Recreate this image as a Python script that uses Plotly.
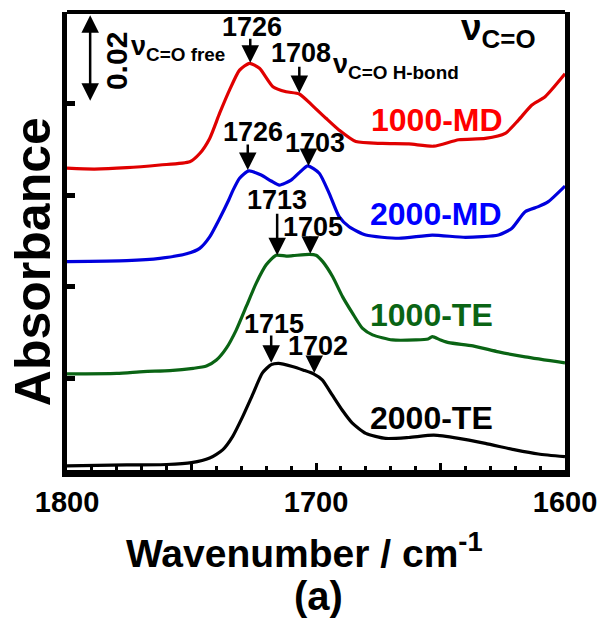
import plotly.graph_objects as go

# ---------------- data ----------------
wn_2000TE = [1800, 1776, 1760, 1750, 1742.7, 1737.5, 1733.5, 1729.5, 1725.5, 1721.5, 1718, 1715, 1709.5, 1705, 1701, 1697.5,
             1693.5, 1689.5, 1685.5, 1680, 1672, 1662.7, 1652.7, 1642.7, 1632, 1620, 1610.7, 1600]
abs_2000TE = [0.0009, 0.0011, 0.0012, 0.0016, 0.0026, 0.0044, 0.0073, 0.0116, 0.0164, 0.0212, 0.0230, 0.0233, 0.0226, 0.0218,
              0.0210, 0.0197, 0.0164, 0.0131, 0.0103, 0.0080, 0.0069, 0.0071, 0.0076, 0.0069, 0.0058, 0.0044, 0.0035, 0.0029]

wn_1000TE = [1800, 1780, 1769.3, 1758.7, 1749.3, 1744, 1740, 1736, 1732, 1728, 1724, 1720, 1716, 1712, 1709.3, 1702.7, 1700,
             1697.3, 1693.3, 1689.3, 1685.3, 1681.3, 1677.3, 1669.3, 1660, 1655, 1653.3, 1650, 1646.7, 1637, 1626.7, 1616, 1600]
abs_1000TE = [0.0210, 0.0211, 0.0215, 0.0217, 0.0222, 0.0227, 0.0240, 0.0266, 0.0306, 0.0357, 0.0408, 0.0448, 0.0469, 0.0467,
              0.0468, 0.0471, 0.0469, 0.0455, 0.0422, 0.0378, 0.0342, 0.0309, 0.0295, 0.0284, 0.0284, 0.0286, 0.0291, 0.0284,
              0.0278, 0.0271, 0.0258, 0.0247, 0.0234]

wn_2000MD = [1800, 1776, 1762.7, 1752, 1746.7, 1742.7, 1739, 1735, 1733.3, 1730.7, 1727, 1722, 1718, 1714.7, 1710, 1706,
             1703.3, 1698.7, 1694.7, 1690.7, 1686.7, 1680, 1666.7, 1653.3, 1640, 1626.7, 1621.3, 1616, 1610.7, 1606.7, 1600]
abs_2000MD = [0.0455, 0.0457, 0.0462, 0.0472, 0.0484, 0.0509, 0.0546, 0.0590, 0.0611, 0.0637, 0.0653, 0.0644, 0.0631, 0.0622,
              0.0633, 0.0653, 0.0664, 0.0648, 0.0604, 0.0553, 0.0531, 0.0513, 0.0506, 0.0513, 0.0508, 0.0513, 0.0528, 0.0564,
              0.0575, 0.0586, 0.0620]

wn_1000MD = [1800, 1789, 1776, 1762.7, 1750.7, 1746.7, 1742.7, 1738.7, 1734.7, 1730.7, 1726.7, 1722.7, 1717.3, 1712, 1706.7,
             1701.3, 1696, 1690.7, 1684, 1673.3, 1662.7, 1652.7, 1642.7, 1632, 1624, 1618.7, 1613.3, 1608, 1600]
abs_1000MD = [0.0659, 0.0657, 0.0660, 0.0666, 0.0673, 0.0691, 0.0724, 0.0779, 0.0830, 0.0873, 0.0888, 0.0877, 0.0837, 0.0826,
              0.0821, 0.0795, 0.0768, 0.0742, 0.0717, 0.0713, 0.0712, 0.0707, 0.0721, 0.0724, 0.0735, 0.0764, 0.0797, 0.0815,
              0.0865]

series_names = ["1000-MD", "2000-MD", "1000-TE", "2000-TE"]
series_colors = ["#e00000", "#0000dd", "#0a6414", "#000000"]
label_colors = ["#ff0000", "#0000ff", "#0a6414", "#000000"]

peak_labels = ["1726", "1708", "1726", "1703", "1713", "1705", "1715", "1702"]

x_tickvals = [1800, 1750, 1700, 1650, 1600]
x_ticktext = ["1800", "", "1700", "", "1600"]

FONT = "Liberation Sans"

fig = go.Figure()
for wn, ab, name, col in zip([wn_1000MD, wn_2000MD, wn_1000TE, wn_2000TE],
                             [abs_1000MD, abs_2000MD, abs_1000TE, abs_2000TE],
                             series_names, series_colors):
    fig.add_trace(go.Scatter(x=wn, y=ab, mode="lines", name=name,
                             line=dict(color=col, width=3.2, shape="spline", smoothing=0.6),
                             showlegend=False, hoverinfo="skip"))

ann = []
# series labels: (x, y) centre in data coords
series_label_pos = [(1651.3, 0.0764), (1651.7, 0.0559), (1653.5, 0.0338), (1653.7, 0.0114)]
for name, col, (x, y) in zip(series_names, label_colors, series_label_pos):
    ann.append(dict(x=x, y=y, xref="x", yref="y", text=name, showarrow=False,
                    xanchor="center", yanchor="middle",
                    font=dict(family=FONT, size=32, color=col, weight="bold")))

# peak labels: text centre, arrow x, arrow tail y, arrow tip y
peak_geom = [(1725.7, 0.0967, 1726.4, 0.0945, 0.0889),
             (1706.1, 0.0910, 1706.7, 0.0884, 0.0823),
             (1725.3, 0.0738, 1727.4, 0.0714, 0.0655),
             (1700.3, 0.0715, 1703.0, 0.0694, 0.0664),
             (1715.5, 0.0590, 1715.6, 0.0563, 0.0469),
             (1701.3, 0.0531, 1702.3, 0.0513, 0.0472),
             (1716.7, 0.0319, 1718.0, 0.0297, 0.0234),
             (1699.1, 0.0271, 1700.7, 0.0247, 0.0212)]
for txt, (tx, ty, axx, ytail, ytip) in zip(peak_labels, peak_geom):
    ann.append(dict(x=tx, y=ty, xref="x", yref="y", text=txt, showarrow=False,
                    xanchor="center", yanchor="middle",
                    font=dict(family=FONT, size=27, color="black", weight="bold")))
    ann.append(dict(x=axx, y=ytip, ax=axx, ay=ytail, xref="x", yref="y", axref="x", ayref="y",
                    text="", showarrow=True, arrowhead=2, arrowsize=1.4, arrowwidth=2.5,
                    arrowcolor="black", standoff=0))

# nu labels
ann.append(dict(x=1775.3, y=0.0921, xref="x", yref="y", xanchor="left", yanchor="middle",
                text="ν<sub>C=O free</sub>", showarrow=False,
                font=dict(family=FONT, size=27, color="black", weight="bold")))
ann.append(dict(x=1694.1, y=0.0882, xref="x", yref="y", xanchor="left", yanchor="middle",
                text="ν<sub>C=O H-bond</sub>", showarrow=False,
                font=dict(family=FONT, size=27, color="black", weight="bold")))
ann.append(dict(x=1642.7, y=0.0961, xref="x", yref="y", xanchor="left", yanchor="middle",
                text="ν<sub>C=O</sub>", showarrow=False,
                font=dict(family=FONT, size=37, color="black", weight="bold")))

# scale bar
ann.append(dict(x=1790.7, y=0.0993, ax=1790.7, ay=0.0803, xref="x", yref="y", axref="x", ayref="y",
                text="", showarrow=True, arrowhead=2, arrowside="end+start", arrowsize=1.4, arrowwidth=2.5,
                arrowcolor="black", standoff=0, startstandoff=0))
ann.append(dict(x=1780.3, y=0.0893, xref="x", yref="y", text="0.02", textangle=-90, showarrow=False,
                xanchor="center", yanchor="middle",
                font=dict(family=FONT, size=30, color="black", weight="bold")))

# axis titles and caption (pixel positions, converted below)
ann.append(dict(x=305, y=550, xref="paper", yref="paper", text="Wavenumber / cm<sup>-1</sup>", showarrow=False,
                font=dict(family=FONT, size=39, color="black", weight="bold")))
ann.append(dict(x=320, y=596, xref="paper", yref="paper", text="(a)", showarrow=False,
                font=dict(family=FONT, size=40, color="black", weight="bold")))
ann.append(dict(x=33, y=262, xref="paper", yref="paper", text="Absorbance", textangle=-90, showarrow=False,
                font=dict(family=FONT, size=50, color="black", weight="bold")))

# convert paper-pixel annotations to paper fractions
W, H = 609, 618
L, R, T, B = 67, 42, 12, 148
pw, ph = W - L - R, H - T - B
for a in ann:
    if a.get("xref") == "paper":
        a["x"] = (a["x"] - L) / pw
        a["y"] = (H - a["y"] - B) / ph
        a["xanchor"] = "center"
        a["yanchor"] = "middle"

fig.update_layout(
    width=W, height=H, margin=dict(l=L, r=R, t=T, b=B, pad=0),
    plot_bgcolor="white", paper_bgcolor="white",
    annotations=ann,
    shapes=[dict(type="line", xref="paper", yref="paper", x0=0, x1=1, y0=1, y1=1,
                 line=dict(color="black", width=4))],
    xaxis=dict(range=[1800, 1600], showgrid=False, zeroline=False,
               showline=True, linecolor="black", linewidth=7, mirror=False,
               tickmode="array", tickvals=x_tickvals, ticktext=x_ticktext,
               ticks="inside", ticklen=7, tickwidth=3, tickcolor="black",
               minor=dict(dtick=10, ticks="inside", ticklen=4, tickwidth=3, tickcolor="black"),
               tickfont=dict(family=FONT, size=29, color="black", weight="bold")),
    yaxis=dict(range=[0, 0.1], showgrid=False, zeroline=False,
               showline=True, linecolor="black", linewidth=5, mirror=True,
               tickmode="array", tickvals=[0.02, 0.04, 0.06, 0.08], ticktext=["", "", "", ""],
               ticks="inside", ticklen=8, tickwidth=5, tickcolor="black"),
)

fig.write_html("out.html", config={"displayModeBar": False},
               post_script="document.body.style.margin='0px';")
